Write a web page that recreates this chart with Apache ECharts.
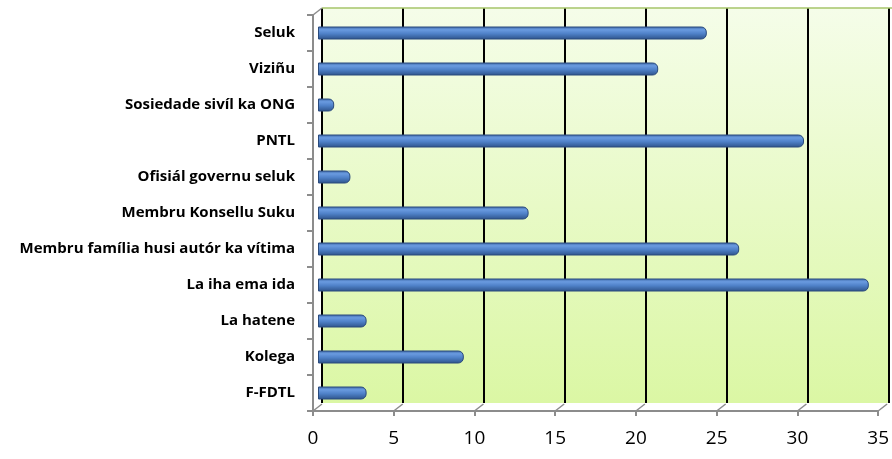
<!DOCTYPE html>
<html><head><meta charset="utf-8">
<script src="https://cdn.jsdelivr.net/npm/echarts@6/dist/echarts.min.js"></script>
<style>html,body{margin:0;padding:0;background:#fff}#c{width:892px;height:459px}</style>
</head><body><div id="c"></div>
<script>
var categories = ["F-FDTL","Kolega","La hatene","La iha ema ida","Membru família husi autór ka vítima","Membru Konsellu Suku","Ofisiál governu seluk","PNTL","Sosiedade sivíl ka ONG","Viziñu","Seluk"];
var values = [3,9,3,34,26,13,2,30,1,21,24];
var xTicks = [0,5,10,15,20,25,30,35];

var chart = echarts.init(document.getElementById('c'));
var DX = 9, DY = -7;
var option = {
  animation: false,
  grid: [
    {left: 322, right: 3, top: 8, bottom: 56, show: true, borderWidth: 0,
     backgroundColor: {type:'linear', x:0, y:0, x2:0, y2:1, colorStops:[{offset:0,color:'#f5fde9'},{offset:1,color:'#dbf7a4'}]}},
    {left: 318, right: 7, top: 15, bottom: 48},
    {left: 313, right: 12, top: 15, bottom: 48}
  ],
  xAxis: [
    {gridIndex:0, type:'value', min:0, max:35, interval:5,
     axisLine:{show:false}, axisTick:{show:false}, axisLabel:{show:false},
     splitLine:{show:true, lineStyle:{color:'#000', width:2}}},
    {gridIndex:1, type:'value', min:0, max:35, interval:5, show:false, splitLine:{show:false}},
    {gridIndex:2, type:'value', min:0, max:35, interval:5,
     axisLine:{show:true, lineStyle:{color:'#8c8c8c', width:2}},
     axisTick:{show:true, length:5, lineStyle:{color:'#8c8c8c', width:2}},
     axisLabel:{show:true, margin:18, fontSize:19, color:'#000', fontFamily:'Open Sans',
       formatter:function(v){return xTicks.indexOf(v)>=0 ? String(v) : '';}},
     splitLine:{show:false}}
  ],
  yAxis: [
    {gridIndex:0, type:'category', data:categories, show:false},
    {gridIndex:1, type:'category', data:categories, show:false},
    {gridIndex:2, type:'category', data:categories,
     axisLine:{show:true, lineStyle:{color:'#8c8c8c', width:2}},
     axisTick:{show:true, length:6, lineStyle:{color:'#8c8c8c', width:2}},
     axisLabel:{margin:18, fontSize:15, fontWeight:'bold', color:'#000', fontFamily:'Open Sans'},
     splitLine:{show:false}}
  ],
  series: [
    {type:'custom', xAxisIndex:2, yAxisIndex:2, silent:true, z:1,
     data: xTicks.map(function(v){return [v, 0];}),
     renderItem: function(params, api){
       var p = api.coord([api.value(0), 0]);
       var bottomY = params.coordSys.y + params.coordSys.height;
       return {type:'line', shape:{x1:p[0], y1:bottomY, x2:p[0]+DX, y2:bottomY+DY},
               style:{stroke:'#8c8c8c', lineWidth:1.5}};
     }},
    {type:'custom', xAxisIndex:2, yAxisIndex:2, silent:true, z:1,
     data: [[0,0]],
     renderItem: function(params, api){
       var cs = params.coordSys;
       return {type:'group', children:[
         {type:'line', shape:{x1:cs.x, y1:cs.y, x2:cs.x+DX, y2:cs.y+DY}, style:{stroke:'#8c8c8c', lineWidth:1.5}},
         {type:'line', shape:{x1:cs.x+DX, y1:cs.y+DY, x2:cs.x+cs.width+DX+10, y2:cs.y+DY}, style:{stroke:'#a6c46a', lineWidth:1.5}}
       ]};
     }},
    {type:'bar', xAxisIndex:1, yAxisIndex:1, data:values, barWidth:13, z:3,
     itemStyle:{
       color:{type:'linear', x:0, y:0, x2:0, y2:1, colorStops:[
         {offset:0,color:'#3d67a6'},{offset:0.25,color:'#6a9be0'},{offset:0.55,color:'#4f81c8'},{offset:1,color:'#2d5289'}]},
       borderColor:'#2a4a7c', borderWidth:1, borderRadius:[0,5,5,0]
     }}
  ]
};
chart.setOption(option);
</script></body></html>
